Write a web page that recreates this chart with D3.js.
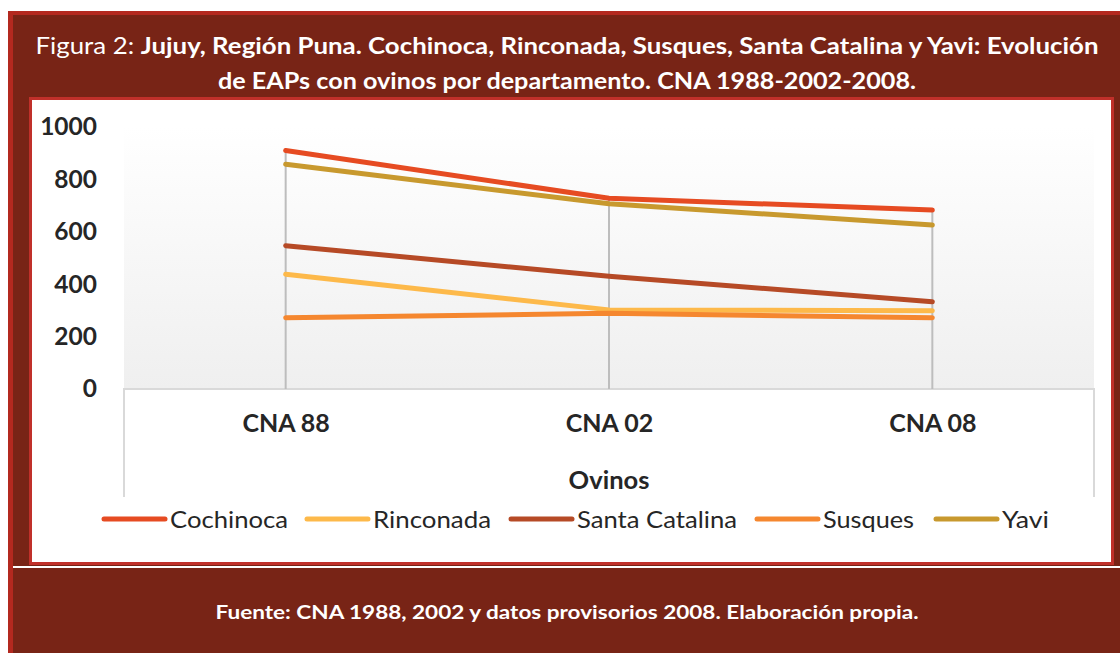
<!DOCTYPE html>
<html><head><meta charset="utf-8">
<script src="https://cdn.jsdelivr.net/npm/d3@7"></script>
<style>
html,body{margin:0;padding:0;background:#fff;}
svg{display:block;}
text{font-family:Lato,"Open Sans",sans-serif;}
</style></head>
<body>
<script>
const categories = ["CNA 88", "CNA 02", "CNA 08"];
const seriesNames = ["Cochinoca", "Rinconada", "Santa Catalina", "Susques", "Yavi"];
const cochinoca = [910, 728, 683];
const rinconada = [438, 302, 299];
const santaCatalina = [547, 430, 333];
const susques = [272, 289, 272];
const yavi = [858, 707, 626];
const yTicks = [0, 200, 400, 600, 800, 1000];
const colors = ["#e64b22", "#fdb94a", "#b64a26", "#f5872f", "#c8992e"];
const xTitle = "Ovinos";
const titleLead = "Figura 2: ";
const titleBold1 = "Jujuy, Región Puna. Cochinoca, Rinconada, Susques, Santa Catalina y Yavi: Evolución";
const titleBold2 = "de EAPs con ovinos por departamento. CNA 1988-2002-2008.";
const sourceText = "Fuente: CNA 1988, 2002 y datos provisorios 2008. Elaboración propia.";

const seriesValues = [cochinoca, rinconada, santaCatalina, susques, yavi];
const series = seriesNames.map((n, i) => ({name: n, values: seriesValues[i], color: colors[i]}));

const W = 1120, H = 653;
const svg = d3.select("body").append("svg").attr("width", W).attr("height", H);

// frame
svg.append("rect").attr("x", 0).attr("y", 0).attr("width", W).attr("height", H).attr("fill", "#fff");
svg.append("rect").attr("x", 8).attr("y", 11).attr("width", W - 8).attr("height", H - 11).attr("fill", "#b3291f");
svg.append("rect").attr("x", 13).attr("y", 15).attr("width", W - 13).attr("height", H - 15).attr("fill", "#782416");
// inner panel
svg.append("rect").attr("x", 29).attr("y", 97).attr("width", 1085).attr("height", 468).attr("fill", "#c0302a");
svg.append("rect").attr("x", 32).attr("y", 100).attr("width", 1079).attr("height", 462).attr("fill", "#fff");
// white separator line
svg.append("rect").attr("x", 13).attr("y", 566).attr("width", W - 13).attr("height", 2).attr("fill", "#fff");

// title
const t1 = svg.append("text").attr("x", 567).attr("y", 54).attr("text-anchor", "middle")
  .attr("fill", "#fff").attr("font-size", 23.5).attr("textLength", 1063).attr("lengthAdjust", "spacingAndGlyphs");
t1.append("tspan").text(titleLead);
t1.append("tspan").attr("font-weight", "bold").text(titleBold1);
svg.append("text").attr("x", 567).attr("y", 89).attr("text-anchor", "middle")
  .attr("fill", "#fff").attr("font-size", 23.5).attr("font-weight", "bold")
  .attr("textLength", 698).attr("lengthAdjust", "spacingAndGlyphs").text(titleBold2);

// source
svg.append("text").attr("x", 567).attr("y", 619).attr("text-anchor", "middle")
  .attr("fill", "#fff").attr("font-size", 19).attr("font-weight", "bold")
  .attr("textLength", 703).attr("lengthAdjust", "spacingAndGlyphs").text(sourceText);

// scales
const plotL = 124, plotR = 1094, plotT = 127, plotB = 389;
const x = d3.scalePoint().domain(categories).range([plotL, plotR]).padding(0.5);
const y = d3.scaleLinear().domain([0, 1000]).range([plotB, plotT]);

// plot area gradient
const defs = svg.append("defs");
const grad = defs.append("linearGradient").attr("id", "pg").attr("x1", 0).attr("y1", 0).attr("x2", 0).attr("y2", 1);
grad.append("stop").attr("offset", "0").attr("stop-color", "#ffffff");
grad.append("stop").attr("offset", "0.12").attr("stop-color", "#fdfdfd");
grad.append("stop").attr("offset", "1").attr("stop-color", "#efefef");
svg.append("rect").attr("x", plotL).attr("y", plotT).attr("width", plotR - plotL).attr("height", plotB - plotT)
  .attr("fill", "url(#pg)");

// category box (white, open at bottom)
svg.append("path")
  .attr("d", `M${plotL},497 V${plotB} H${plotR} V497`)
  .attr("fill", "#fff").attr("stroke", "#d9d9d9").attr("stroke-width", 2);

// drop lines
categories.forEach((c, i) => {
  const mx = d3.max(series, s => s.values[i]);
  svg.append("line").attr("x1", x(c)).attr("x2", x(c)).attr("y1", y(mx)).attr("y2", plotB)
    .attr("stroke", "#bdbdbd").attr("stroke-width", 2);
});

// y axis labels
const yAxis = d3.axisLeft(y).tickValues(yTicks).tickFormat(d3.format("d")).tickSize(0).tickPadding(0);
const ga = svg.append("g").attr("transform", `translate(97,0)`).call(yAxis);
ga.select(".domain").remove();
ga.selectAll("text").attr("font-size", 24.5).attr("font-weight", "bold").attr("fill", "#262626")
  .attr("font-family", "Lato, sans-serif");

// x axis labels
const xAxis = d3.axisBottom(x).tickSize(0).tickPadding(0);
const gx = svg.append("g").attr("transform", `translate(0,${plotB + 25})`).call(xAxis);
gx.select(".domain").remove();
gx.selectAll("text").attr("font-size", 25).attr("font-weight", "bold").attr("fill", "#262626")
  .attr("font-family", "Lato, sans-serif");

svg.append("text").attr("x", x(categories[1])).attr("y", 489).attr("text-anchor", "middle")
  .attr("font-size", 25.5).attr("font-weight", "bold").attr("fill", "#262626").text(xTitle);

// lines
const line = d3.line().x((d, i) => x(categories[i])).y(d => y(d));
series.forEach(s => {
  svg.append("path").datum(s.values).attr("d", line).attr("fill", "none")
    .attr("stroke", s.color).attr("stroke-width", 5).attr("stroke-linecap", "round").attr("stroke-linejoin", "round");
});

// legend
const legendX = [104, 307, 511, 757, 936];
const legendW = [118, 118, 160, 91, 47];
const lg = svg.append("g");
series.forEach((s, i) => {
  const g = lg.append("g").attr("transform", `translate(${legendX[i]},519)`);
  g.append("line").attr("x1", 0).attr("x2", 61).attr("y1", 0).attr("y2", 0)
    .attr("stroke", s.color).attr("stroke-width", 5).attr("stroke-linecap", "round");
  g.append("text").attr("x", 66).attr("y", 8.5).attr("font-size", 24).attr("fill", "#262626")
    .attr("textLength", legendW[i]).attr("lengthAdjust", "spacingAndGlyphs").text(s.name);
});
</script>
</body></html>
